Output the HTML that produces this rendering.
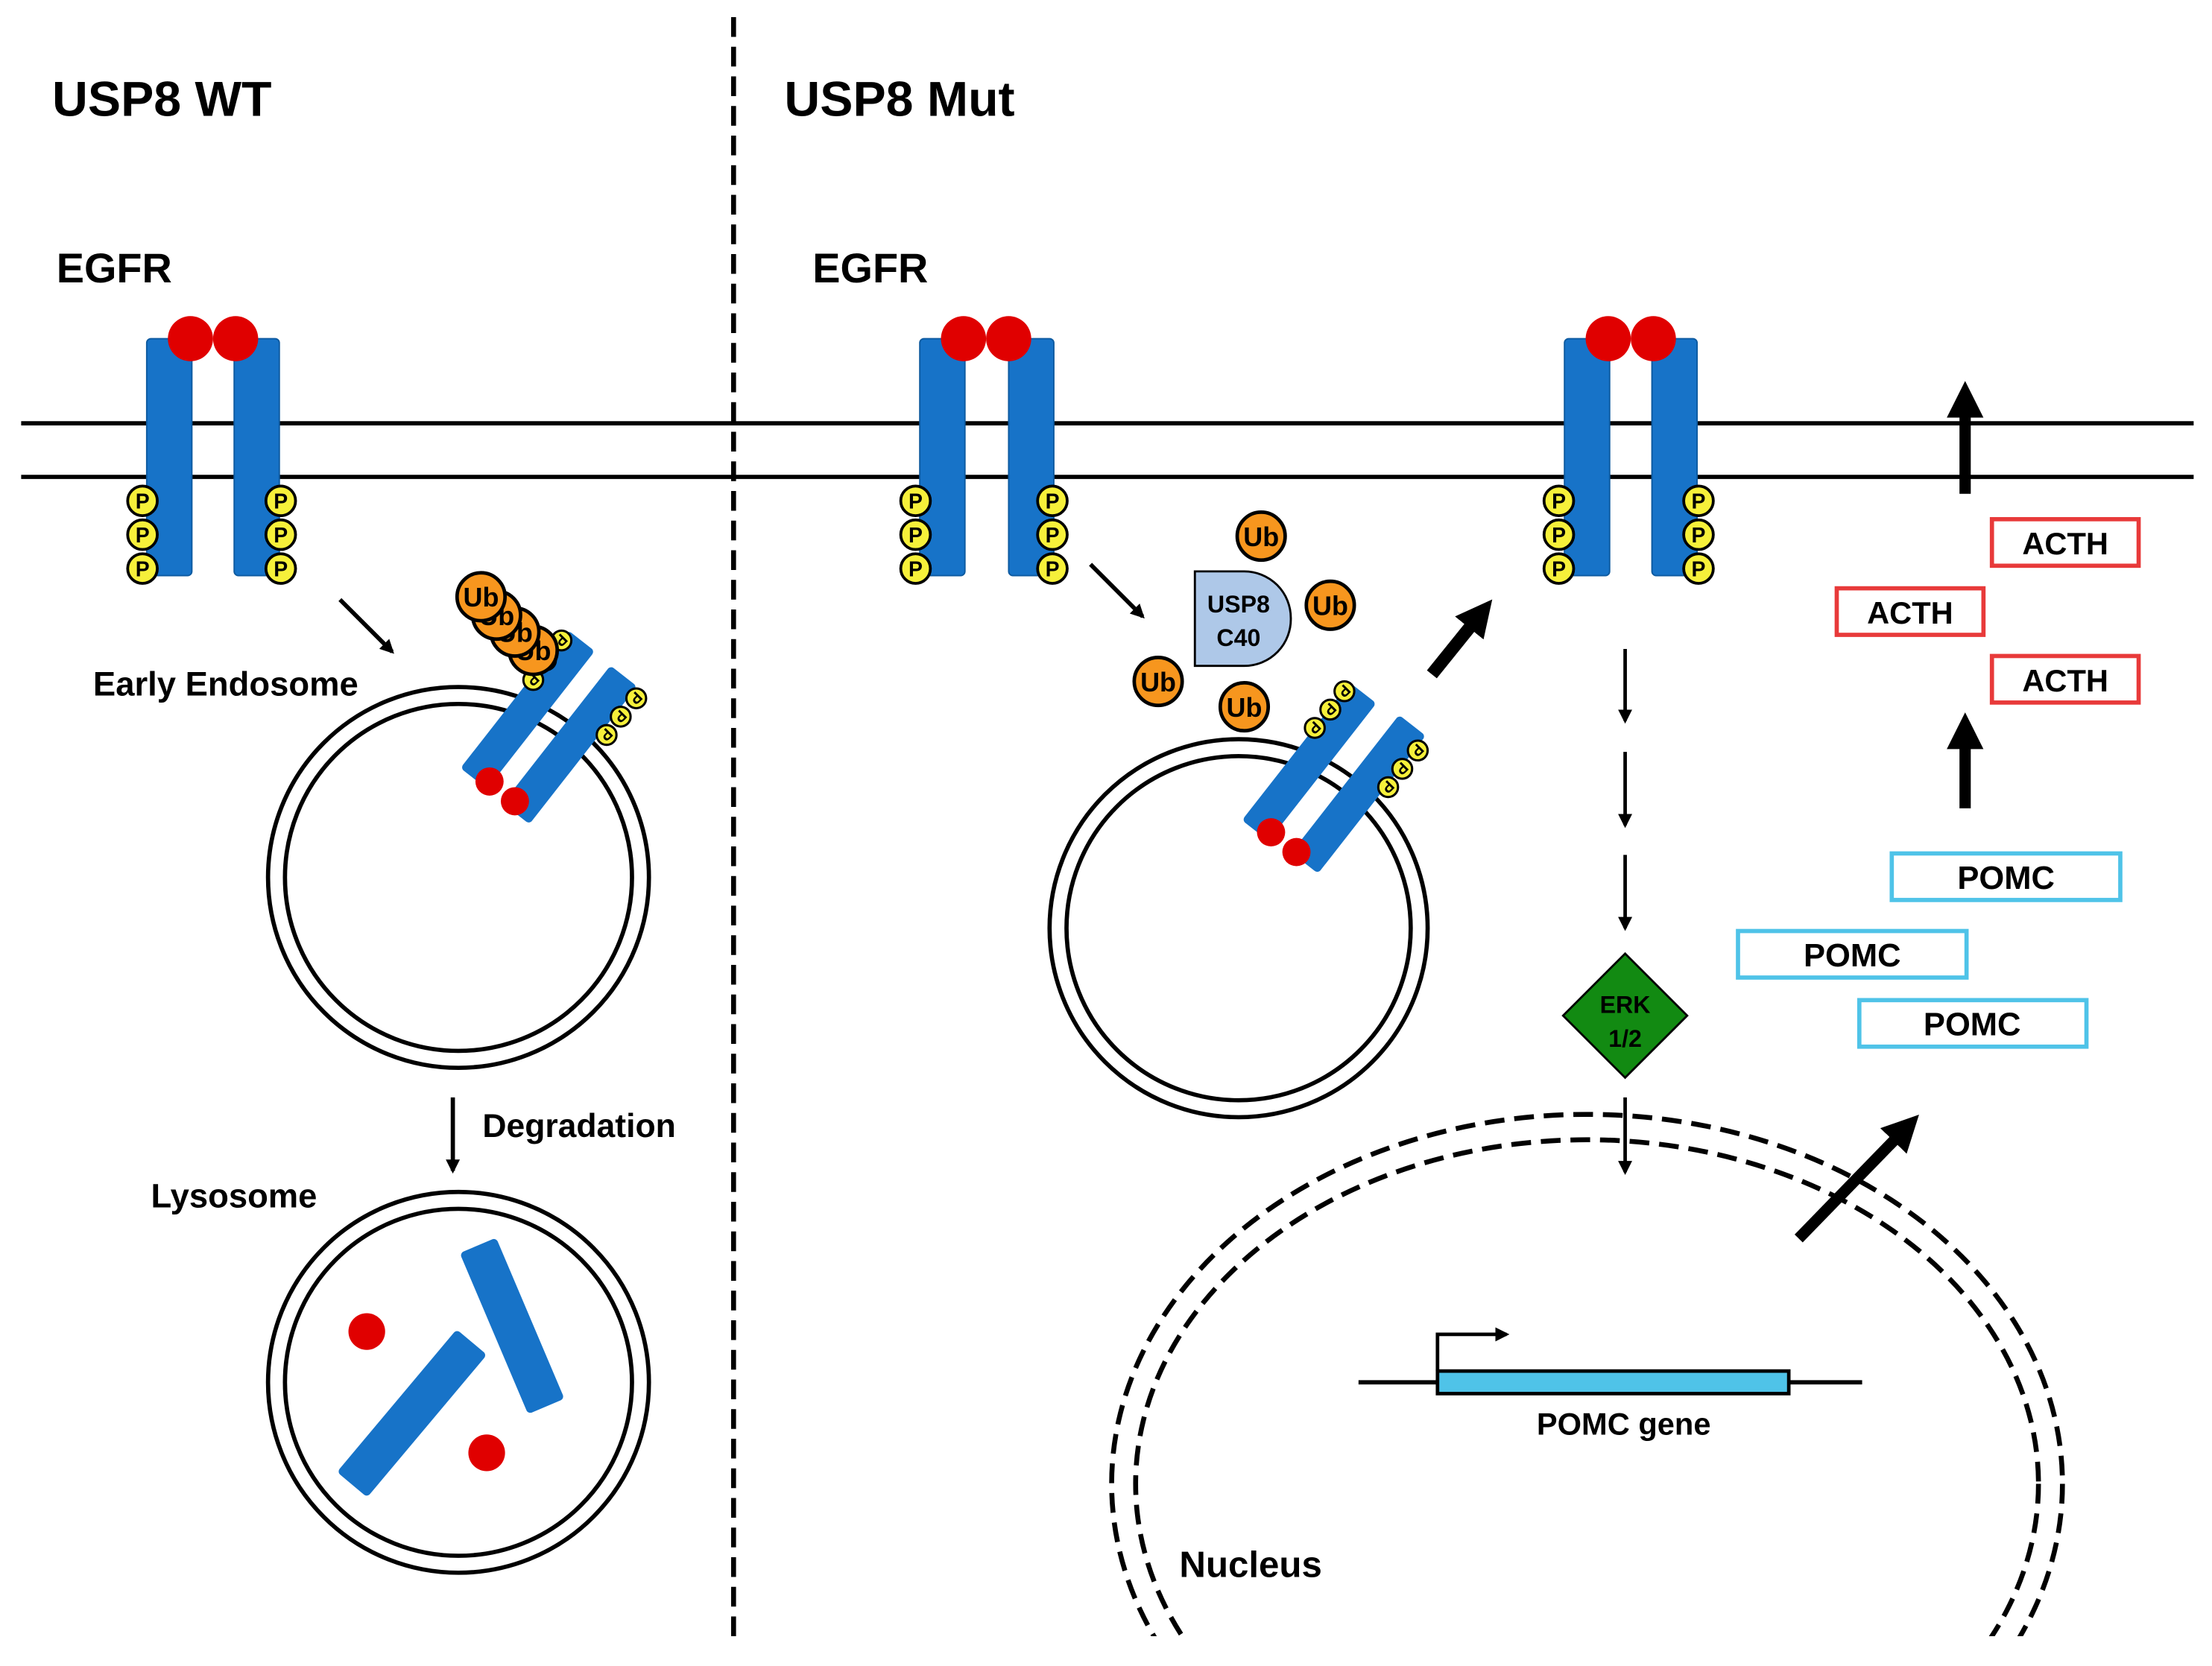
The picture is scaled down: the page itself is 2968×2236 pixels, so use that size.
<!DOCTYPE html>
<html><head><meta charset="utf-8"><style>
html,body{margin:0;padding:0;background:#fff;overflow:hidden;width:2968px;height:2236px;}
svg{display:block;}
text{font-family:"Liberation Sans",Arial,sans-serif;font-weight:bold;fill:#000;}
</style></head><body>
<svg width="2968" height="2236" viewBox="0 0 1568 1181" xmlns="http://www.w3.org/2000/svg">
<defs>
<marker id="ah" markerWidth="10" markerHeight="10" refX="8" refY="5" orient="auto" markerUnits="userSpaceOnUse" viewBox="0 0 10 10">
<path d="M0,0 L10,5 L0,10 z" fill="#000"/></marker>
<marker id="bh" markerWidth="26" markerHeight="26" refX="4" refY="13" orient="auto" markerUnits="userSpaceOnUse" viewBox="0 0 26 26">
<path d="M0,0 L26,13 L0,26 z" fill="#000"/></marker>
<clipPath id="nc"><rect x="0" y="0" width="1568" height="1160"/></clipPath>
<g id="P"><circle r="10.5" fill="#f6f03a" stroke="#000" stroke-width="2"/><text y="5.5" font-size="15" text-anchor="middle">P</text></g>
<g id="Pr"><circle r="7" fill="#f6f03a" stroke="#000" stroke-width="1.6"/><text y="4" font-size="11" text-anchor="middle" transform="rotate(135)">P</text></g>
<g id="Ub"><circle r="17" fill="#f7961e" stroke="#000" stroke-width="2.5"/><text y="7" font-size="19" text-anchor="middle">Ub</text></g>
</defs>

<line x1="520" y1="12" x2="520" y2="1162" stroke="#000" stroke-width="3.5" stroke-dasharray="14,7"/>

<line x1="15" y1="300" x2="1555" y2="300" stroke="#000" stroke-width="3"/>
<line x1="15" y1="338" x2="1555" y2="338" stroke="#000" stroke-width="3"/>

<text x="37" y="82" font-size="35">USP8 WT</text>
<text x="556" y="82" font-size="35">USP8 Mut</text>
<text x="40" y="200" font-size="29.5">EGFR</text>
<text x="576" y="200" font-size="29.5">EGFR</text>

<g>
<rect x="104" y="240" width="32" height="168" rx="3" fill="#1773c8" stroke="#0d5aa0" stroke-width="1"/>
<rect x="166" y="240" width="32" height="168" rx="3" fill="#1773c8" stroke="#0d5aa0" stroke-width="1"/>
<circle cx="135" cy="240" r="16" fill="#e00000"/><circle cx="167" cy="240" r="16" fill="#e00000"/>
<use href="#P" x="101" y="355"/><use href="#P" x="101" y="379"/><use href="#P" x="101" y="403"/>
<use href="#P" x="199" y="355"/><use href="#P" x="199" y="379"/><use href="#P" x="199" y="403"/>
</g>
<g>
<rect x="652" y="240" width="32" height="168" rx="3" fill="#1773c8" stroke="#0d5aa0" stroke-width="1"/>
<rect x="715" y="240" width="32" height="168" rx="3" fill="#1773c8" stroke="#0d5aa0" stroke-width="1"/>
<circle cx="683" cy="240" r="16" fill="#e00000"/><circle cx="715" cy="240" r="16" fill="#e00000"/>
<use href="#P" x="649" y="355"/><use href="#P" x="649" y="379"/><use href="#P" x="649" y="403"/>
<use href="#P" x="746" y="355"/><use href="#P" x="746" y="379"/><use href="#P" x="746" y="403"/>
</g>
<g>
<rect x="1109" y="240" width="32" height="168" rx="3" fill="#1773c8" stroke="#0d5aa0" stroke-width="1"/>
<rect x="1171" y="240" width="32" height="168" rx="3" fill="#1773c8" stroke="#0d5aa0" stroke-width="1"/>
<circle cx="1140" cy="240" r="16" fill="#e00000"/><circle cx="1172" cy="240" r="16" fill="#e00000"/>
<use href="#P" x="1105" y="355"/><use href="#P" x="1105" y="379"/><use href="#P" x="1105" y="403"/>
<use href="#P" x="1204" y="355"/><use href="#P" x="1204" y="379"/><use href="#P" x="1204" y="403"/>
</g>

<line x1="241" y1="425" x2="278" y2="462" stroke="#000" stroke-width="3" marker-end="url(#ah)"/>
<line x1="773" y1="400" x2="810" y2="437" stroke="#000" stroke-width="3" marker-end="url(#ah)"/>

<circle cx="325" cy="622" r="135" fill="none" stroke="#000" stroke-width="3"/>
<circle cx="325" cy="622" r="123" fill="none" stroke="#000" stroke-width="3"/>
<text x="66" y="493" font-size="24">Early Endosome</text>
<rect x="-12" y="-62" width="24" height="124" rx="3" fill="#1773c8" transform="translate(374,503) rotate(38)"/>
<rect x="-12" y="-62" width="24" height="124" rx="3" fill="#1773c8" transform="translate(404,528) rotate(38)"/>
<circle cx="347" cy="554" r="10" fill="#e00000"/><circle cx="365" cy="568" r="10" fill="#e00000"/>
<use href="#Pr" x="398" y="454"/><use href="#Pr" x="387" y="468"/><use href="#Pr" x="378" y="482"/>
<use href="#Pr" x="451" y="495"/><use href="#Pr" x="440" y="508"/><use href="#Pr" x="430" y="521"/>
<use href="#Ub" x="378" y="461"/><use href="#Ub" x="365" y="448"/><use href="#Ub" x="352" y="436"/><use href="#Ub" x="341" y="423"/>

<line x1="321" y1="778" x2="321" y2="830" stroke="#000" stroke-width="3" marker-end="url(#ah)"/>
<text x="342" y="806" font-size="23.5">Degradation</text>
<text x="107" y="856" font-size="24">Lysosome</text>
<circle cx="325" cy="980" r="135" fill="none" stroke="#000" stroke-width="3"/>
<circle cx="325" cy="980" r="123" fill="none" stroke="#000" stroke-width="3"/>
<rect x="-14" y="-62" width="28" height="124" rx="3" fill="#1773c8" transform="translate(363,940) rotate(-23)"/>
<rect x="-14" y="-66" width="28" height="132" rx="3" fill="#1773c8" transform="translate(292,1002) rotate(40)"/>
<circle cx="260" cy="944" r="13" fill="#e00000"/>
<circle cx="345" cy="1030" r="13" fill="#e00000"/>

<circle cx="878" cy="658" r="134" fill="none" stroke="#000" stroke-width="3"/>
<circle cx="878" cy="658" r="122" fill="none" stroke="#000" stroke-width="3"/>
<rect x="-12" y="-62" width="24" height="124" rx="3" fill="#1773c8" transform="translate(928,540) rotate(38)"/>
<rect x="-12" y="-62" width="24" height="124" rx="3" fill="#1773c8" transform="translate(963,563) rotate(38)"/>
<circle cx="901" cy="590" r="10" fill="#e00000"/><circle cx="919" cy="604" r="10" fill="#e00000"/>
<use href="#Pr" x="953" y="490"/><use href="#Pr" x="943" y="503"/><use href="#Pr" x="932" y="516"/>
<use href="#Pr" x="1005" y="532"/><use href="#Pr" x="994" y="545"/><use href="#Pr" x="984" y="558"/>

<path d="M847,405 L882,405 A33,33 0 0 1 915,438 A33,33 0 0 1 882,472 L847,472 Z" fill="#aec8e8" stroke="#000" stroke-width="1.5"/>
<text x="878" y="434" font-size="17" text-anchor="middle">USP8</text>
<text x="878" y="458" font-size="17" text-anchor="middle">C40</text>
<use href="#Ub" x="894" y="380"/><use href="#Ub" x="943" y="429"/><use href="#Ub" x="821" y="483"/><use href="#Ub" x="882" y="501"/>

<line x1="1015" y1="478" x2="1044" y2="442" stroke="#000" stroke-width="9" marker-end="url(#bh)"/>
<line x1="1393" y1="350" x2="1393" y2="292" stroke="#000" stroke-width="8" marker-end="url(#bh)"/>
<line x1="1393" y1="573" x2="1393" y2="527" stroke="#000" stroke-width="8" marker-end="url(#bh)"/>
<line x1="1275" y1="878" x2="1345" y2="806" stroke="#000" stroke-width="8" marker-end="url(#bh)"/>

<g stroke="#000" stroke-width="2.5">
<line x1="1152" y1="460" x2="1152" y2="511" marker-end="url(#ah)"/>
<line x1="1152" y1="533" x2="1152" y2="585" marker-end="url(#ah)"/>
<line x1="1152" y1="606" x2="1152" y2="658" marker-end="url(#ah)"/>
<line x1="1152" y1="778" x2="1152" y2="831" marker-end="url(#ah)"/>
</g>
<polygon points="1152,676 1196,720 1152,764 1108,720" fill="#128a12" stroke="#000" stroke-width="1.5"/>
<text x="1152" y="718" font-size="17" text-anchor="middle">ERK</text>
<text x="1152" y="742" font-size="17" text-anchor="middle">1/2</text>

<g clip-path="url(#nc)" fill="none" stroke="#000" stroke-width="3.5" stroke-dasharray="14,7">
<ellipse cx="1125" cy="1052" rx="337" ry="262"/>
<ellipse cx="1125" cy="1052" rx="320" ry="244"/>
</g>
<text x="836" y="1118" font-size="26">Nucleus</text>

<line x1="963" y1="980" x2="1320" y2="980" stroke="#000" stroke-width="3"/>
<rect x="1019" y="972" width="249" height="16" fill="#4fc3e8" stroke="#000" stroke-width="2.5"/>
<polyline points="1019,972 1019,946 1068,946" fill="none" stroke="#000" stroke-width="2.5" marker-end="url(#ah)"/>
<text x="1151" y="1017" font-size="22" text-anchor="middle">POMC gene</text>

<g fill="#fff" stroke="#e83a3a" stroke-width="3">
<rect x="1412" y="368" width="104" height="33"/>
<rect x="1302" y="417" width="104" height="33"/>
<rect x="1412" y="465" width="104" height="33"/>
</g>
<text x="1464" y="393" font-size="22" text-anchor="middle">ACTH</text>
<text x="1354" y="442" font-size="22" text-anchor="middle">ACTH</text>
<text x="1464" y="490" font-size="22" text-anchor="middle">ACTH</text>

<g fill="#fff" stroke="#4fc3e8" stroke-width="3">
<rect x="1341" y="605" width="162" height="33"/>
<rect x="1232" y="660" width="162" height="33"/>
<rect x="1318" y="709" width="161" height="33"/>
</g>
<text x="1422" y="630" font-size="23" text-anchor="middle">POMC</text>
<text x="1313" y="685" font-size="23" text-anchor="middle">POMC</text>
<text x="1398" y="734" font-size="23" text-anchor="middle">POMC</text>
</svg>
</body></html>
